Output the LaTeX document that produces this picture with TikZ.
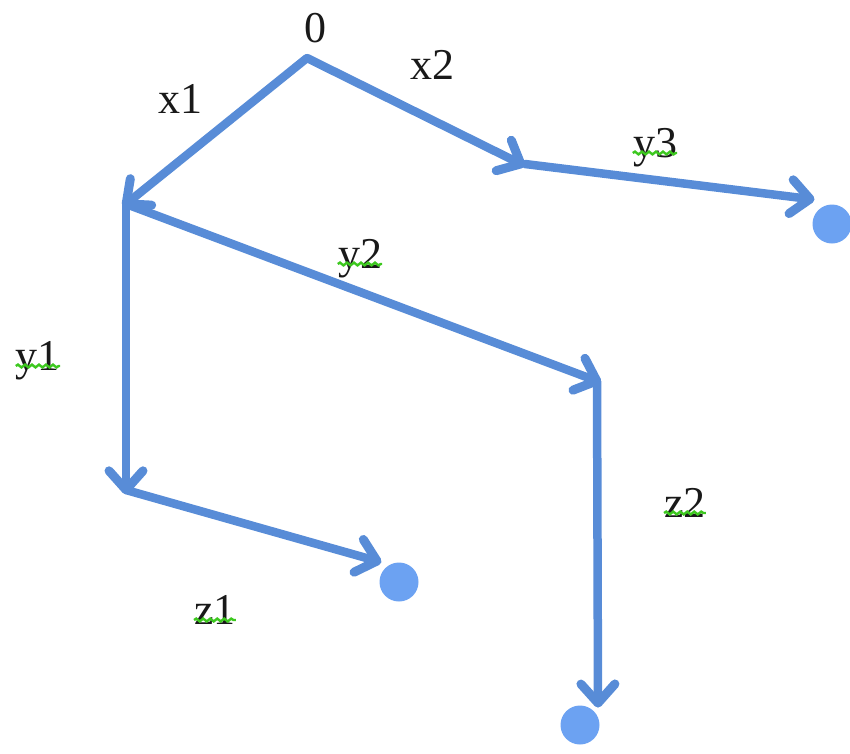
\documentclass[tikz,border=0pt]{standalone}
\usepackage{fontspec}
\setmainfont{Liberation Serif}
\usetikzlibrary{decorations.pathmorphing,decorations.markings}
\definecolor{edgeblue}{RGB}{88,140,215}
\definecolor{dotblue}{RGB}{108,162,242}
\definecolor{squiggreen}{RGB}{60,200,30}
\tikzset{
  pt/.style={inner sep=0pt,minimum size=0pt},
  edge/.style={draw=edgeblue,line width=8.5pt,line cap=round,line join=round,
    postaction={decorate,decoration={markings,mark=at position 1 with
      {\draw[edgeblue,line width=9pt,line cap=round,line join=round]
        (-19pt,17pt) -- (0,0) -- (-19pt,-17pt);}}}},
  lbl/.style={font=\fontsize{44}{48}\selectfont,text=black!90,inner sep=0pt,anchor=base},
  squig/.style={draw=squiggreen,line width=2.4pt,decorate,
    decoration={snake,segment length=7pt,amplitude=1.4pt}},
  leaf/.style={circle,fill=dotblue,minimum size=39pt,inner sep=0pt}
}
\begin{document}
\begin{tikzpicture}[x=1pt,y=-1pt]
\useasboundingbox (0,0) rectangle (850,753);
% junction points
\node[pt] (r) at (307,58) {};
\node[pt] (a) at (126,204) {};
\node[pt] (b) at (521,164) {};
\node[pt] (c) at (126,490) {};
\node[pt] (d) at (597,381) {};
\coordinate (t3) at (810,199);
\coordinate (t1) at (377,561);
\coordinate (t2) at (598,703);
% leaves
\node[leaf] (l3) at (832,224) {};
\node[leaf] (l1) at (399,582) {};
\node[leaf] (l2) at (580,725) {};
% edges
\draw[edge] (r) -- (a);
\draw[edge] (r) -- (b);
\draw[edge] ([xshift=4pt]b.center) -- (t3);
\draw[edge] (a) -- (c);
\draw[edge] (a) -- (d);
\draw[edge] (c) -- (t1);
\draw[edge] (d) -- (t2);
% labels
\node[lbl] (n0) at (315,42) {0};
\node[lbl] (nx1) at (180,113) {x1};
\node[lbl] (nx2) at (432,79) {x2};
\node[lbl] (ny3) at (655,157) {y3};
\node[lbl] (ny2) at (360,268) {y2};
\node[lbl] (ny1) at (38,370) {y1};
\node[lbl] (nz2) at (685,517) {z2};
\node[lbl] (nz1) at (215,624) {z1};
% spell-check squiggles
\foreach \n in {ny3,ny2,ny1,nz2,nz1}{
  \draw[squig] ([yshift=4pt]\n.base west) -- ([yshift=4pt]\n.base east);
}
\end{tikzpicture}
\end{document}
